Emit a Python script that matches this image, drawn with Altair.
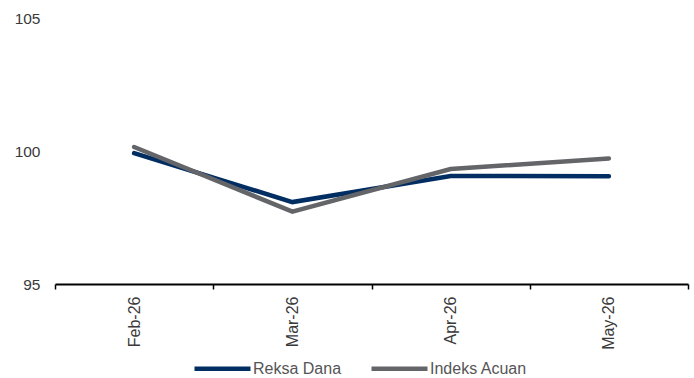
import altair as alt
import pandas as pd

# Monthly index values for the fund and its benchmark
months = ["Feb-26", "Mar-26", "Apr-26", "May-26"]
reksa_dana = [99.92, 98.08, 99.06, 99.05]
indeks_acuan = [100.15, 97.72, 99.32, 99.72]
series_names = ["Reksa Dana", "Indeks Acuan"]
series_colors = ["#002D62", "#646569"]

rows = []
for name, values in zip(series_names, [reksa_dana, indeks_acuan]):
    for m, v in zip(months, values):
        rows.append({"Bulan": m, "Nilai": v, "Seri": name})
df = pd.DataFrame(rows)

FONT = "Liberation Sans"

chart = (
    alt.Chart(df)
    .mark_line(strokeWidth=4.5, strokeCap="round", strokeJoin="miter")
    .encode(
        x=alt.X(
            "Bulan:N",
            sort=months,
            title=None,
            scale=alt.Scale(paddingInner=0, paddingOuter=0),
            axis=alt.Axis(
                tickBand="extent",
                labelAngle=270,
                labelFont=FONT,
                labelFontSize=16,
                labelColor="#3a3a3a",
                labelPadding=7,
                tickSize=5,
                tickColor="#000000",
                tickWidth=1.5,
                domainColor="#000000",
                domainWidth=2,
                grid=False,
            ),
        ),
        y=alt.Y(
            "Nilai:Q",
            title=None,
            scale=alt.Scale(domain=[95, 105], nice=False, zero=False),
            axis=alt.Axis(
                values=[95, 100, 105],
                domain=False,
                ticks=False,
                grid=False,
                labelFont=FONT,
                labelFontSize=15.5,
                labelColor="#3a3a3a",
                labelPadding=15,
            ),
        ),
        color=alt.Color(
            "Seri:N",
            sort=series_names,
            scale=alt.Scale(domain=series_names, range=series_colors),
            legend=alt.Legend(
                title=None,
                orient="none",
                direction="horizontal",
                legendX=137,
                legendY=320,
                symbolType="stroke",
                symbolSize=3136,
                symbolStrokeWidth=4.5,
                labelFont=FONT,
                labelFontSize=16,
                labelColor="#555555",
                labelOffset=0,
                columnPadding=20,
            ),
        ),
    )
    .properties(
        width=633,
        height=266,
        background="white",
        autosize=alt.AutoSizeParams(type="none"),
        padding={"left": 55, "top": 18, "right": 6, "bottom": 94},
    )
    .configure_view(strokeWidth=0, stroke="transparent")
)

chart.save("out.html", embed_options={"renderer": "svg", "actions": False})
